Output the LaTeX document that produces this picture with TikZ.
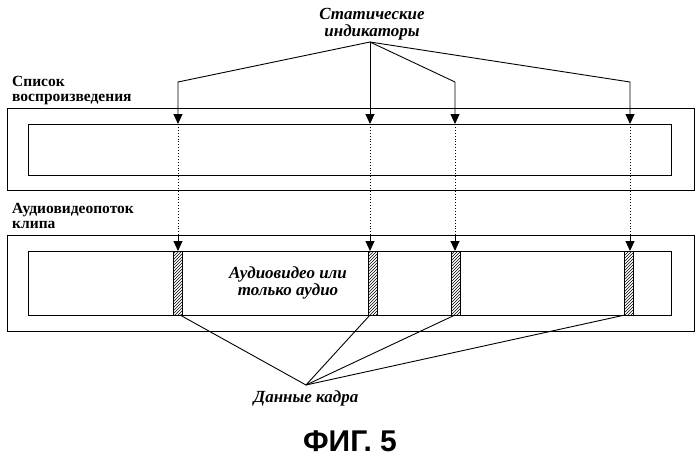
\documentclass[tikz,border=0pt]{standalone}
\usepackage{fontspec}
\setmainfont{Liberation Serif}
\newfontfamily\figfont{Liberation Sans}
\usetikzlibrary{patterns,arrows.meta}
\begin{document}
\begin{tikzpicture}[x=1pt,y=-1pt,
  box/.style={draw,line width=1pt},
  lbl/.style={font=\fontsize{17}{17}\selectfont\bfseries\itshape,align=center,inner sep=0},
  side/.style={font=\fontsize{15.5}{15.5}\selectfont\bfseries,align=left,anchor=north west,inner sep=0},
  arr/.style={-{Triangle[length=10pt,width=9pt]},line width=0.9pt},
  bar/.style={draw,line width=0.9pt,pattern=north east lines},
  dots/.style={dotted,line width=0.9pt},
  ln/.style={line width=0.9pt}]
\useasboundingbox (0,0) rectangle (699,463);
% boxes
\draw[box] (7,108) rectangle (694,190);
\draw[box] (28,124) rectangle (671,175);
\draw[box] (7,235) rectangle (694,331);
\draw[box] (28,251) rectangle (671,315);
% labels
\node[lbl] (si) at (372,24) {Статические\\индикаторы};
\node[side] (pl) at (12,76) {Список\\воспроизведения};
\node[side] (cl) at (12,203) {Аудиовидеопоток\\клипа};
\node[lbl] (av) at (288,283) {Аудиовидео или\\только аудио};
\node[lbl] (fd) at (306,398) {Данные кадра};
\node[font=\figfont\fontsize{30}{30}\selectfont\bfseries] (fig) at (350,441) {ФИГ. 5};
% static indicator arrows
\coordinate (ap) at (370,42);
\foreach \x [count=\i] in {178,370,455,630}{
  \coordinate (b\i) at (\x,82);
  \coordinate (t\i) at (\x,124);
  \coordinate (s\i) at (\x,236);
  \coordinate (e\i) at (\x,251);
}
\draw[arr] (ap) -- (b1) -- (t1);
\draw[arr] (ap) -- (t2);
\draw[arr] (ap) -- (b3) -- (t3);
\draw[arr] (ap) -- (b4) -- (t4);
\foreach \i in {1,...,4}{
  \draw[dots] (t\i) -- (s\i);
  \draw[arr] (s\i) -- (e\i);
}
% bars
\draw[bar] (173,251) rectangle (182,315);
\draw[bar] (368,251) rectangle (377,315);
\draw[bar] (451,251) rectangle (460,315);
\draw[bar] (624,251) rectangle (633,315);
\coordinate (ad) at (306,385);
\draw[ln] (180,315) -- (ad) -- (370,315);
\draw[ln] (ad) -- (455,315);
\draw[ln] (ad) -- (625,315);
\end{tikzpicture}
\end{document}
